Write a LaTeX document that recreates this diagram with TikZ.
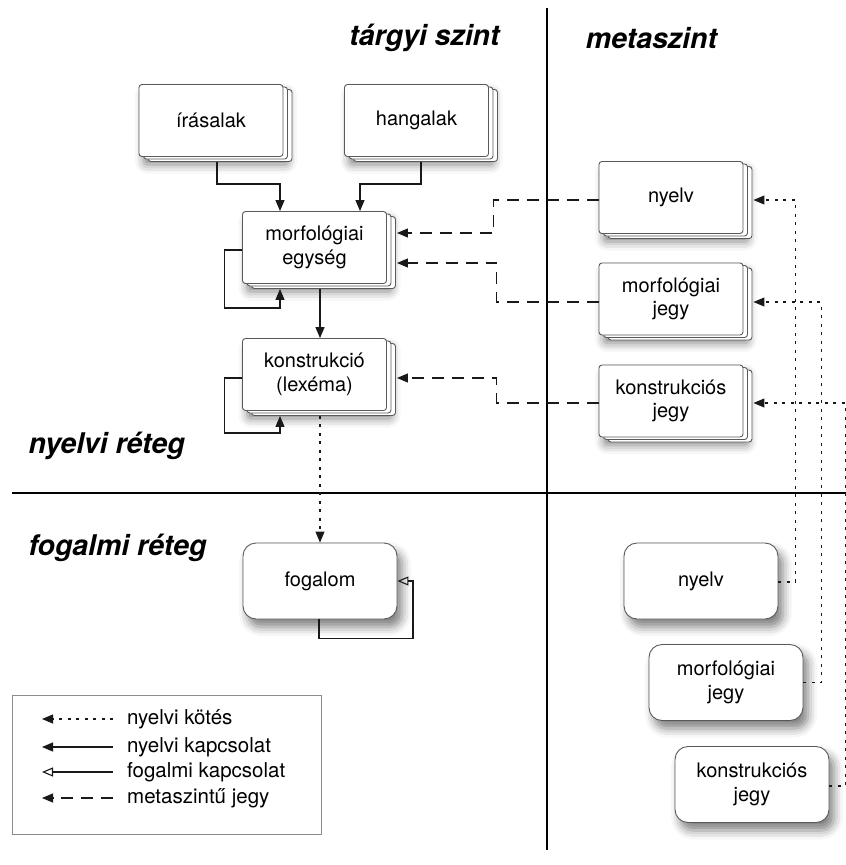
\documentclass[tikz,border=0pt]{standalone}
\usepackage{fontspec}
\setmainfont{TeX Gyre Heros}
\usetikzlibrary{shadows,shadows.blur,arrows.meta,calc}

\begin{document}
\begin{tikzpicture}[x=1pt,y=-1pt,
  boxtext/.style={font=\fontsize{20}{23.5}\selectfont, align=center, text=black},
  softshadow/.style={blur shadow={shadow xshift=5pt, shadow yshift=-8pt,
      shadow blur radius=9pt, shadow opacity=50}},
  stackbox/.style={boxtext, draw=black!65, fill=white, line width=0.9pt,
      rounded corners=3pt, minimum width=144pt, minimum height=72pt, inner sep=0pt,
      softshadow,
      copy shadow={shadow xshift=9pt, shadow yshift=-5pt, draw=black!65, line width=0.9pt},
      copy shadow={shadow xshift=4.5pt, shadow yshift=-2.5pt, draw=black!65, line width=0.9pt}},
  roundbox/.style={boxtext, draw=black!65, fill=white, line width=0.9pt,
      rounded corners=13pt, minimum width=154pt, minimum height=76pt, inner sep=0pt,
      softshadow},
  headline/.style={font=\fontsize{28.5}{30}\selectfont\bfseries\itshape},
  legtext/.style={font=\fontsize{20.5}{24}\selectfont, anchor=west, inner sep=0pt},
  tipfill/.style={-{Triangle[length=11pt,width=9pt]}},
  conn/.style={line width=1.1pt, draw=black!90},
  link/.style={conn, tipfill},
  concept/.style={conn, -{Triangle[open,length=11pt,width=9pt]}},
  bind/.style={conn, dash pattern=on 3pt off 5.5pt, tipfill},
  meta/.style={conn, dash pattern=on 12pt off 8pt, tipfill},
  divider/.style={line width=2.6pt, draw=black}
]
\useasboundingbox (0,0) rectangle (846,865);

% quadrant dividers
\draw[divider] (547,8) -- (547,850);
\draw[divider] (12,493) -- (846,493);

% headings
\node[headline] (targyi) at (424.5,38) {tárgyi szint};
\node[headline] (meta)   at (651.5,38) {metaszint};
\node[headline, anchor=west] (nyelvi)  at (25,446) {nyelvi réteg};
\node[headline, anchor=west] (fogalmi) at (25,548) {fogalmi réteg};

% object level, linguistic layer
\node[stackbox] (irasalak) at (211,120.5) {írásalak};
\node[stackbox] (hangalak) at (416.5,120.5) {hangalak};
\node[stackbox] (morf)     at (314.5,247.5) {morfológiai\\egység};
\node[stackbox] (konstr)   at (314.5,374.5) {konstrukció\\(lexéma)};

% object level, conceptual layer
\node[roundbox] (fogalom) at (320,581) {fogalom};

% meta level, linguistic layer
\node[stackbox] (nyelvM)  at (671,197.5) {nyelv};
\node[stackbox] (morfM)   at (671,299)   {morfológiai\\jegy};
\node[stackbox] (konstrM) at (671,401)   {konstrukciós\\jegy};

% meta level, conceptual layer
\node[roundbox] (nyelvB)  at (701,581)   {nyelv};
\node[roundbox] (morfB)   at (726,682.5) {morfológiai\\jegy};
\node[roundbox] (konstrB) at (752,784.5) {konstrukciós\\jegy};

% linguistic relations
\draw[link] ($(irasalak.south)+(6,5)$) -- ++(0,22) -| ($(morf.north)+(-34.5,0)$);
\draw[link] ($(hangalak.south)+(4.5,5)$) -- ++(0,22) -| ($(morf.north)+(45.5,0)$);
\draw[link] ($(morf.south)+(5.5,5)$) -- ($(konstr.north)+(5.5,0)$);
\draw[link] ($(morf.west)+(0,2.5)$) -- ++(-18,0) -- ++(0,58) -| ($(morf.south)+(-34.5,5)$);
\draw[link] ($(konstr.west)+(0,3.5)$) -- ++(-18,0) -- ++(0,55) -| ($(konstr.south)+(-34.5,5)$);

% linguistic binding to the concept
\draw[bind] ($(konstr.south)+(5.5,5)$) -- (fogalom.north);

% conceptual relation
\draw[concept] ($(fogalom.south)+(-1,0)$) -- ++(0,19) -- ++(94,0) |- (fogalom.east);

% meta-level features
\draw[meta] ($(nyelvM.west)+(0,2.5)$) -- ++(-105,0) |- ($(morf.east)+(10,-14.5)$);
\draw[meta] ($(morfM.west)+(0,3)$) -- ++(-102,0) |- ($(morf.east)+(10,15.5)$);
\draw[meta] ($(konstrM.west)+(0,2)$) -- ++(-102,0) |- ($(konstr.east)+(10,3.5)$);

% bindings of the meta-level concepts
\draw[bind] ($(nyelvB.east)+(0,1)$) -- ++(17,0) |- ($(nyelvM.east)+(10,2.5)$);
\draw[bind] (morfB.east) -- ++(18,0) |- ($(morfM.east)+(10,3)$);
\draw[bind] ($(konstrB.east)+(0,1.5)$) -- ++(16,0) |- ($(konstrM.east)+(10,2)$);

% legend
\node[draw=black!45, line width=0.8pt, fill=white, minimum width=309pt, minimum height=139pt,
      inner sep=0pt] (legend) at (166.5,764.5) {};
\node[legtext] (lg1) at (127,719) {nyelvi kötés};
\node[legtext] (lg2) at (127,747) {nyelvi kapcsolat};
\node[legtext] (lg3) at (127,772) {fogalmi kapcsolat};
\node[legtext] (lg4) at (127,798) {metaszintű jegy};
\draw[bind]    ($(lg1.west)+(-14,0)$) -- ++(-71,0);
\draw[link]    ($(lg2.west)+(-14,0)$) -- ++(-71,0);
\draw[concept] ($(lg3.west)+(-14,0)$) -- ++(-71,0);
\draw[meta]    ($(lg4.west)+(-14,0)$) -- ++(-71,0);
\end{tikzpicture}
\end{document}
